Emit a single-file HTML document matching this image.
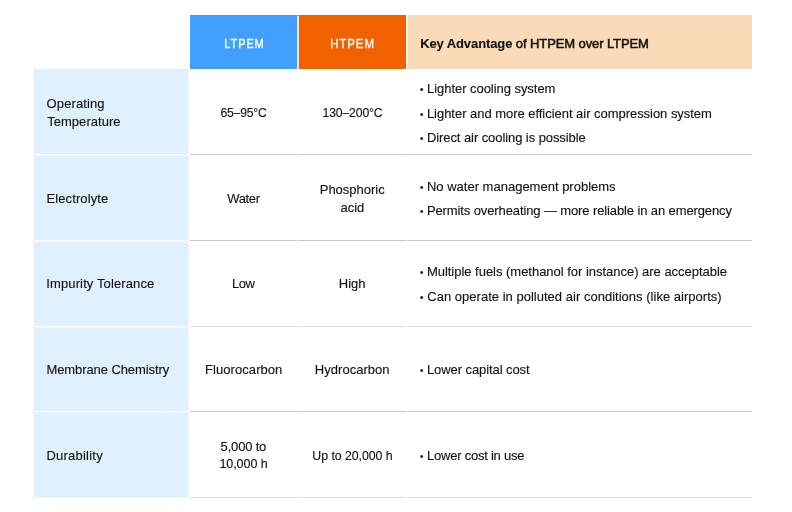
<!DOCTYPE html>
<html lang="en">
<head>
<meta charset="utf-8">
<title>LTPEM vs HTPEM comparison</title>
<style>
html,body{margin:0;padding:0;background:#fff;}
body{width:792px;height:512px;overflow:hidden;position:relative;font-family:"Liberation Sans",sans-serif;font-size:13px;color:#111;-webkit-text-stroke:0.12px #111;}
table.cmp{position:absolute;left:33px;top:15px;width:719px;border-collapse:separate;border-spacing:0;table-layout:fixed;}
col.c0{width:157px}col.c1{width:109px}col.c2{width:108px}col.c3{width:345px}
th,td{padding:0;margin:0;font-weight:normal;text-align:left;vertical-align:top;overflow:hidden;}
.in{position:relative;box-sizing:border-box;overflow:hidden;}
.l{position:relative;display:block;white-space:nowrap;}
thead .in{height:54px;}
tbody .in{height:86px;}
tbody tr.r4 .in{height:85px;}
/* header */
thead th.lt{background:linear-gradient(#f98a10 0,#f98a10 1px,#ffdfc6 1px,#ffdfc6 100%);}
thead th.lt .in{background:#41a0ff;margin-right:2px;color:#fff;}
thead th.ht .in{background:#f16100;border-right:1px solid #fff;color:#fff;}
thead th.adv .in{background:#f9dbb9;border-left:1px solid #fbe8d2;}
thead th.lt,thead th.ht{text-align:center;}
thead th.lt .in,thead th.ht .in{padding-top:20px;font-size:13px;line-height:16px;-webkit-text-stroke:0.35px #fff;}
thead th.lt .l,thead th.ht .l{transform:scaleX(0.88);}
thead th.adv .in{padding:20px 0 0 12px;line-height:16px;-webkit-text-stroke:0.5px #111;}
thead th.adv b{font-weight:bold;-webkit-text-stroke:0.1px #111;}
/* first column */
tbody th .in{background:#e0f0ff;border-left:1px solid #f3f9ff;border-right:1px solid #eef7ff;margin-right:1px;border-bottom:1px solid #fdfeff;border-top:1px solid #e9f5ff;display:flex;flex-direction:column;justify-content:center;padding-left:13px;line-height:18px;}
tbody tr.r1 th .in{border-top-color:#e0f0ff;}
tbody tr.r5 th .in{border-bottom-color:#f0f7ff;}
/* value columns */
tbody td .in{border-bottom:1px solid #c6c6c6;display:flex;flex-direction:column;justify-content:center;}
tbody td.v .in{border-right:2px solid #fff;text-align:center;line-height:17.5px;}
tbody td.v + td.v .in{border-right-width:1px;}
tbody tr.r3 td .in,tbody tr.r5 td .in{border-bottom-color:#dedede;}
tbody td.k .in{border-left:1px solid #fff;padding-left:12px;line-height:24.5px;}
ul{list-style:none;margin:0;padding:0;}
li{position:relative;padding-left:7.5px;}
.b{-webkit-text-stroke:0;position:absolute;left:-0.2px;top:0;font-size:11px;line-height:24.5px;}
</style>
</head>
<body>
<table class="cmp">
<colgroup><col class="c0"><col class="c1"><col class="c2"><col class="c3"></colgroup>
<thead>
<tr>
<td class="blank"></td>
<th class="lt"><div class="in"><span class="l" id="h1" style="letter-spacing:1.138px;left:0.52px;top:1.00px;transform:scaleX(0.84);transform-origin:50% 50%">LTPEM</span></div></th>
<th class="ht"><div class="in"><span class="l" id="h2" style="letter-spacing:1.067px;left:0.40px;top:1.01px">HTPEM</span></div></th>
<th class="adv"><div class="in"><span class="l" id="h3" style="letter-spacing:-0.098px;left:0.17px;top:1.00px"><b>Key Advantage</b> of HTPEM over LTPEM</span></div></th>
</tr>
</thead>
<tbody>
<tr class="r1">
<th scope="row"><div class="in"><span class="l" id="r1a0" style="letter-spacing:0.115px;left:-0.43px;top:1.00px">Operating</span><span class="l" id="r1a1" style="letter-spacing:0.044px;left:0.17px;top:1.01px">Temperature</span></div></th>
<td class="v"><div class="in"><span class="l" id="r1b0" style="letter-spacing:-0.230px;left:0.14px;top:1.25px;transform:scaleX(0.938);transform-origin:50% 50%">65–95°C</span></div></td>
<td class="v"><div class="in"><span class="l" id="r1c0" style="letter-spacing:-0.155px;left:-0.24px;top:1.25px;transform:scaleX(0.94);transform-origin:50% 50%">130–200°C</span></div></td>
<td class="k"><div class="in"><ul><li style="top:2.25px"><span class="b">•</span><span class="l" id="r1d0" style="letter-spacing:-0.044px;left:-0.53px">Lighter cooling system</span></li><li style="top:2.75px"><span class="b">•</span><span class="l" id="r1d1" style="letter-spacing:-0.034px;left:-0.59px">Lighter and more efficient air compression system</span></li><li style="top:2.25px"><span class="b">•</span><span class="l" id="r1d2" style="letter-spacing:-0.078px;left:-0.59px">Direct air cooling is possible</span></li></ul></div></td>
</tr>
<tr class="r2">
<th scope="row"><div class="in"><span class="l" id="r2a0" style="letter-spacing:0.114px;left:-0.55px;top:1.00px">Electrolyte</span></div></th>
<td class="v"><div class="in"><span class="l" id="r2b0" style="letter-spacing:-0.353px;left:0.02px;top:1.26px">Water</span></div></td>
<td class="v"><div class="in"><span class="l" id="r2c0" style="letter-spacing:0.002px;left:-0.28px;top:1.01px">Phosphoric</span><span class="l" id="r2c1" style="letter-spacing:-0.013px;left:-0.07px;top:1.50px">acid</span></div></td>
<td class="k"><div class="in"><ul><li style="top:2.00px"><span class="b">•</span><span class="l" id="r2d0" style="letter-spacing:0.001px;left:-0.53px">No water management problems</span></li><li style="top:1.51px"><span class="b">•</span><span class="l" id="r2d1" style="letter-spacing:-0.113px;left:-0.59px">Permits overheating — more reliable in an emergency</span></li></ul></div></td>
</tr>
<tr class="r3">
<th scope="row"><div class="in"><span class="l" id="r3a0" style="letter-spacing:0.119px;left:-0.71px;top:0.01px">Impurity Tolerance</span></div></th>
<td class="v"><div class="in"><span class="l" id="r3b0" style="letter-spacing:-0.456px;left:-0.33px;top:0.25px">Low</span></div></td>
<td class="v"><div class="in"><span class="l" id="r3c0" style="letter-spacing:0.033px;left:-0.30px;top:0.25px">High</span></div></td>
<td class="k"><div class="in"><ul><li style="top:1.00px"><span class="b">•</span><span class="l" id="r3d0" style="letter-spacing:-0.022px;left:-0.61px">Multiple fuels (methanol for instance) are acceptable</span></li><li style="top:1.50px"><span class="b">•</span><span class="l" id="r3d1" style="letter-spacing:0.019px;left:-0.26px">Can operate in polluted air conditions (like airports)</span></li></ul></div></td>
</tr>
<tr class="r4">
<th scope="row"><div class="in"><span class="l" id="r4a0" style="letter-spacing:-0.089px;left:-0.55px;top:0.51px">Membrane Chemistry</span></div></th>
<td class="v"><div class="in"><span class="l" id="r4b0" style="letter-spacing:0.061px;left:0.24px;top:0.76px">Fluorocarbon</span></div></td>
<td class="v"><div class="in"><span class="l" id="r4c0" style="letter-spacing:0.028px;left:-0.29px;top:0.75px">Hydrocarbon</span></div></td>
<td class="k"><div class="in"><ul><li style="top:1.25px"><span class="b">•</span><span class="l" id="r4d0" style="letter-spacing:-0.085px;left:-0.56px">Lower capital cost</span></li></ul></div></td>
</tr>
<tr class="r5">
<th scope="row"><div class="in"><span class="l" id="r5a0" style="letter-spacing:0.217px;left:-0.49px;top:1.00px">Durability</span></div></th>
<td class="v"><div class="in"><span class="l" id="r5b0" style="letter-spacing:-0.176px;left:-0.12px;top:1.01px">5,000 to</span><span class="l" id="r5b1" style="letter-spacing:-0.088px;left:0.16px;top:0.50px;transform:scaleX(0.964);transform-origin:50% 50%">10,000 h</span></div></td>
<td class="v"><div class="in"><span class="l" id="r5c0" style="letter-spacing:-0.071px;left:-0.23px;top:1.26px;transform:scaleX(0.952);transform-origin:50% 50%">Up to 20,000 h</span></div></td>
<td class="k"><div class="in"><ul><li style="top:1.75px"><span class="b">•</span><span class="l" id="r5d0" style="letter-spacing:-0.227px;left:-0.53px">Lower cost in use</span></li></ul></div></td>
</tr>
</tbody>
</table>
</body>
</html>
